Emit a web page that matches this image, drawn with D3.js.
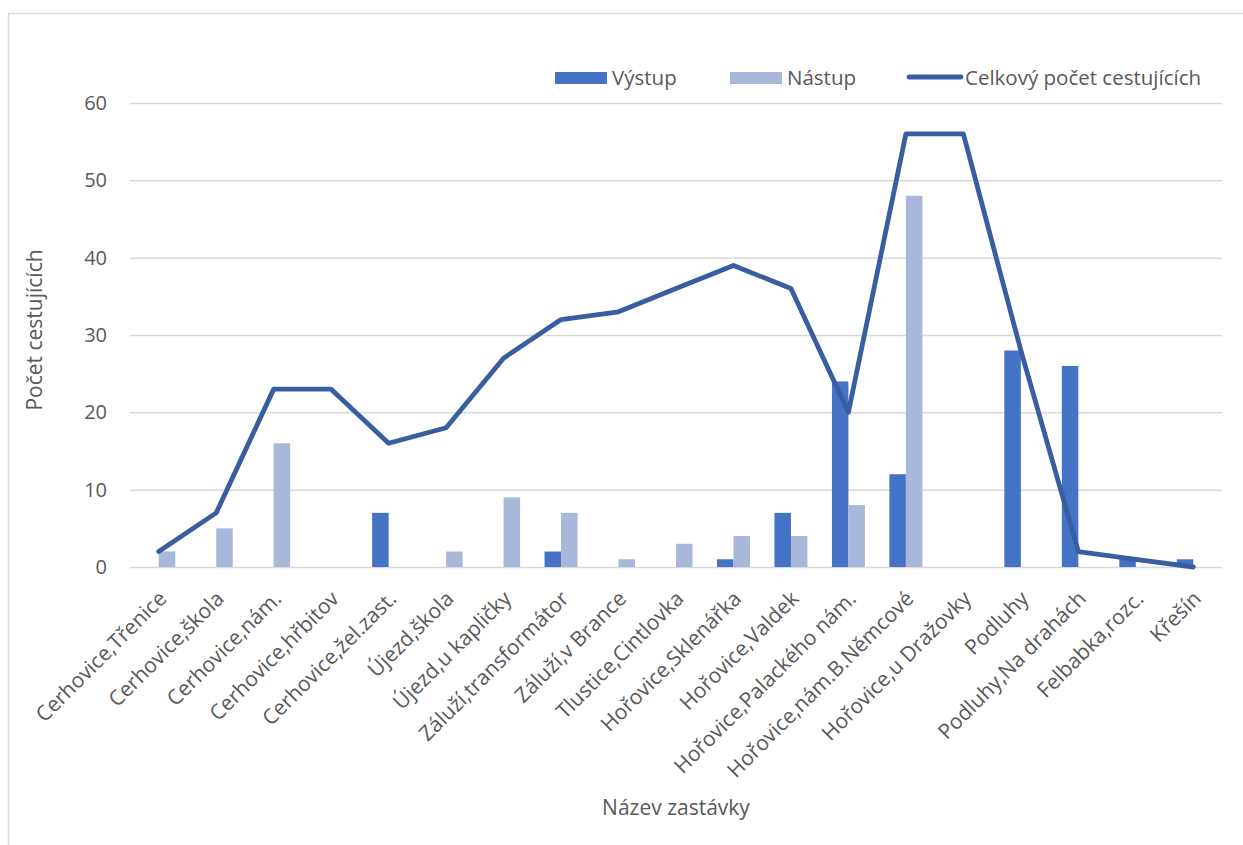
<!DOCTYPE html>
<html>
<head>
<meta charset="utf-8">
<script src="https://cdn.jsdelivr.net/npm/d3@7"></script>
<style>
    body { margin: 0; background: #fff; }
    text { font-family: "Open Sans", Lato, sans-serif; fill: #595959; }
</style>
</head>
<body>
<div id="wrapper"></div>
<script>
// data
const stops = [
    "Cerhovice,Třenice", "Cerhovice,škola", "Cerhovice,nám.", "Cerhovice,hřbitov",
    "Cerhovice,žel.zast.", "Újezd,škola", "Újezd,u kapličky", "Záluží,transformátor",
    "Záluží,v Brance", "Tlustice,Cintlovka", "Hořovice,Sklenářka", "Hořovice,Valdek",
    "Hořovice,Palackého nám.", "Hořovice,nám.B.Němcové", "Hořovice,u Dražovky",
    "Podluhy", "Podluhy,Na drahách", "Felbabka,rozc.", "Křešín"
]
const vystup = [0, 0, 0, 0, 7, 0, 0, 2, 0, 0, 1, 7, 24, 12, 0, 28, 26, 1, 1]
const nastup = [2, 5, 16, 0, 0, 2, 9, 7, 1, 3, 4, 4, 8, 48, 0, 0, 0, 0, 0]
const celkem = [2, 7, 23, 23, 16, 18, 27, 32, 33, 36, 39, 36, 20, 56, 56, 28, 2, 1, 0]
const yTicks = [0, 10, 20, 30, 40, 50, 60]

const seriesNames = ["Výstup", "Nástup"]
const colors = { "Výstup": "#4472C4", "Nástup": "#A9B7DB" }
const lineColor = "#385DA1"

const dataset = stops.map((s, i) => ({
    stop: s, "Výstup": vystup[i], "Nástup": nastup[i], total: celkem[i]
}))

// dims
const dims = { width: 1243, height: 845 }
const plot = { left: 130, right: 1222, top: 103, bottom: 567 }

const svg = d3.select("#wrapper")
    .append("svg")
    .attr("width", dims.width)
    .attr("height", dims.height)

// outer chart border
svg.append("rect")
    .attr("x", 8.5).attr("y", 13.5)
    .attr("width", 1400).attr("height", 1000)
    .attr("fill", "none")
    .attr("stroke", "#d9d9d9")
    .attr("stroke-width", 1.5)

// scales
const xScale = d3.scaleBand()
    .domain(stops)
    .range([plot.left, plot.right])

const barW = 16.5
const x1 = d3.scaleBand()
    .domain(seriesNames)
    .range([xScale.bandwidth() / 2 - barW, xScale.bandwidth() / 2 + barW])

const yScale = d3.scaleLinear()
    .domain([0, 60])
    .range([plot.bottom, plot.top])

// gridlines + y labels
const yAxis = svg.append("g")
    .attr("transform", `translate(${plot.left},0)`)
    .call(d3.axisLeft(yScale)
        .tickValues(yTicks)
        .tickSize(-(plot.right - plot.left))
        .tickPadding(23))
yAxis.select(".domain").remove()
yAxis.selectAll(".tick line")
    .attr("stroke", "#d9d9d9")
    .attr("stroke-width", 1.5)
yAxis.selectAll(".tick text")
    .style("font-size", "20px")
    .attr("fill", "#595959")

// bars
svg.append("g")
    .selectAll("g")
    .data(dataset)
    .join("g")
    .attr("transform", d => `translate(${xScale(d.stop)},0)`)
    .selectAll("rect")
    .data(d => seriesNames.map(k => ({ key: k, value: d[k] })))
    .join("rect")
    .attr("x", d => x1(d.key))
    .attr("width", x1.bandwidth())
    .attr("y", d => yScale(d.value))
    .attr("height", d => yScale(0) - yScale(d.value))
    .attr("fill", d => colors[d.key])

// line
const lineGen = d3.line()
    .x(d => xScale(d.stop) + xScale.bandwidth() / 2)
    .y(d => yScale(d.total))

svg.append("path")
    .datum(dataset)
    .attr("d", lineGen)
    .attr("fill", "none")
    .attr("stroke", lineColor)
    .attr("stroke-width", 4.8)
    .attr("stroke-linejoin", "round")
    .attr("stroke-linecap", "round")

// x labels
const xAxis = svg.append("g")
    .attr("transform", `translate(0,${plot.bottom})`)
    .call(d3.axisBottom(xScale).tickSize(0).tickPadding(0))
xAxis.select(".domain").remove()
xAxis.selectAll(".tick text")
    .attr("text-anchor", "end")
    .attr("transform", "translate(9,33) rotate(-45)")
    .attr("dy", 0)
    .attr("y", 0)
    .style("font-size", "21px")
    .attr("fill", "#595959")

// axis titles
svg.append("text")
    .attr("x", 676)
    .attr("y", 815)
    .attr("text-anchor", "middle")
    .style("font-size", "21px")
    .text("Název zastávky")

svg.append("text")
    .attr("transform", "translate(42,330) rotate(-90)")
    .attr("text-anchor", "middle")
    .style("font-size", "21px")
    .text("Počet cestujících")

// legend
const legend = svg.append("g")
const legendItems = [
    { name: "Výstup", x: 555, type: "bar" },
    { name: "Nástup", x: 730, type: "bar" },
    { name: "Celkový počet cestujících", x: 907, type: "line" }
]
legendItems.forEach(it => {
    if (it.type === "bar") {
        legend.append("rect")
            .attr("x", it.x).attr("y", 72)
            .attr("width", 52).attr("height", 12)
            .attr("fill", colors[it.name])
    } else {
        legend.append("line")
            .attr("x1", it.x + 2).attr("x2", it.x + 54)
            .attr("y1", 77).attr("y2", 77)
            .attr("stroke", lineColor)
            .attr("stroke-width", 4.8)
            .attr("stroke-linecap", "round")
    }
    legend.append("text")
        .attr("x", it.type === "bar" ? it.x + 57 : it.x + 58)
        .attr("y", 85)
        .style("font-size", "20.5px")
        .text(it.name)
})
</script>
</body>
</html>
